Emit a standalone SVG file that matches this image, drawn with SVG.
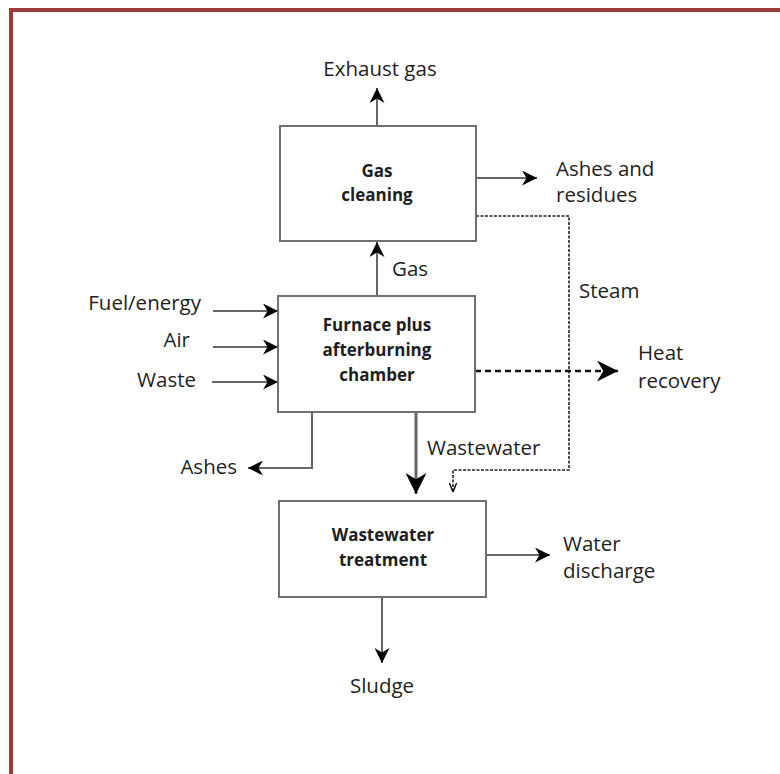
<svg xmlns="http://www.w3.org/2000/svg" width="780" height="774" viewBox="0 0 780 774">
<defs>
<marker id="ahL" viewBox="0 0 10 10" refX="10" refY="5" markerWidth="15" markerHeight="15" markerUnits="userSpaceOnUse" orient="auto">
<path d="M0,0 L10,5 L0,10 L3,5 Z" fill="#000"/>
</marker>
<marker id="ahXL" viewBox="0 0 10 10" refX="10" refY="5" markerWidth="21" markerHeight="21" markerUnits="userSpaceOnUse" orient="auto">
<path d="M0,0 L10,5 L0,10 L3,5 Z" fill="#000"/>
</marker>
<marker id="ahS" viewBox="0 0 10 10" refX="10" refY="5" markerWidth="9" markerHeight="9" markerUnits="userSpaceOnUse" orient="auto">
<path d="M0,1 L10,5 L0,9" fill="none" stroke="#000" stroke-width="1.5"/>
</marker>
</defs>
<style>
.box{fill:#fff;stroke:#707070;stroke-width:2}
.ln{fill:none;stroke:#666;stroke-width:2}
.lnT{fill:none;stroke:#666;stroke-width:3}
.ds{fill:none;stroke:#222;stroke-width:1.6;stroke-dasharray:3,1.5}
.dsT{fill:none;stroke:#111;stroke-width:2.5;stroke-dasharray:6,4}
.t{font-family:"Open Sans","Liberation Sans",sans-serif;font-size:20.5px;fill:#1e1e1e}
.b{font-family:"Open Sans","Liberation Sans",sans-serif;font-size:17px;font-weight:bold;fill:#1e1e1e;text-anchor:middle}
</style>
<rect x="0" y="0" width="780" height="774" fill="#fff"/>
<path d="M11,780 L11,10 L790,10" fill="none" stroke="#9e3b3b" stroke-width="4"/>
<g id="connectors">
<line class="ln" x1="377" y1="126" x2="377" y2="88" marker-end="url(#ahL)"/>
<line class="ln" x1="476" y1="178" x2="537" y2="178" marker-end="url(#ahL)"/>
<polyline class="ds" points="476,216 569,216 569,470 453,470 453,492" marker-end="url(#ahS)"/>
<line class="ln" x1="377" y1="296" x2="377" y2="242" marker-end="url(#ahL)"/>
<line class="ln" x1="213" y1="311" x2="278" y2="311" marker-end="url(#ahL)"/>
<line class="ln" x1="213" y1="347" x2="278" y2="347" marker-end="url(#ahL)"/>
<line class="ln" x1="212" y1="382" x2="278" y2="382" marker-end="url(#ahL)"/>
<line class="dsT" x1="475" y1="371" x2="618" y2="371" marker-end="url(#ahXL)"/>
<line class="lnT" x1="416" y1="412" x2="416" y2="494" marker-end="url(#ahXL)"/>
<polyline class="ln" points="312,412 312,468 248,468" marker-end="url(#ahL)"/>
<line class="ln" x1="486" y1="555" x2="550" y2="555" marker-end="url(#ahL)"/>
<line class="ln" x1="382" y1="597" x2="382" y2="663" marker-end="url(#ahL)"/>
</g>
<g id="gas-cleaning">
<rect class="box" x="280" y="126" width="196" height="115"/>
<text class="b" x="377" y="177">Gas</text>
<text class="b" x="377" y="201">cleaning</text>
</g>
<g id="furnace">
<rect class="box" x="278" y="296" width="197" height="116"/>
<text class="b" x="377" y="331">Furnace plus</text>
<text class="b" x="377" y="356">afterburning</text>
<text class="b" x="377" y="381">chamber</text>
</g>
<g id="wastewater-treatment">
<rect class="box" x="279" y="501" width="207" height="96"/>
<text class="b" x="383" y="541">Wastewater</text>
<text class="b" x="383" y="566">treatment</text>
</g>
<g id="labels">
<text class="t" x="380" y="76" text-anchor="middle">Exhaust gas</text>
<text class="t" x="556" y="176">Ashes and</text>
<text class="t" x="556" y="202">residues</text>
<text class="t" x="579" y="298">Steam</text>
<text class="t" x="392" y="276">Gas</text>
<text class="t" x="201" y="310" text-anchor="end">Fuel/energy</text>
<text class="t" x="190" y="347" text-anchor="end">Air</text>
<text class="t" x="196" y="387" text-anchor="end">Waste</text>
<text class="t" x="638" y="360">Heat</text>
<text class="t" x="638" y="388">recovery</text>
<text class="t" x="427" y="455">Wastewater</text>
<text class="t" x="237" y="474" text-anchor="end">Ashes</text>
<text class="t" x="563" y="551">Water</text>
<text class="t" x="563" y="578">discharge</text>
<text class="t" x="382" y="693" text-anchor="middle">Sludge</text>
</g>
</svg>
